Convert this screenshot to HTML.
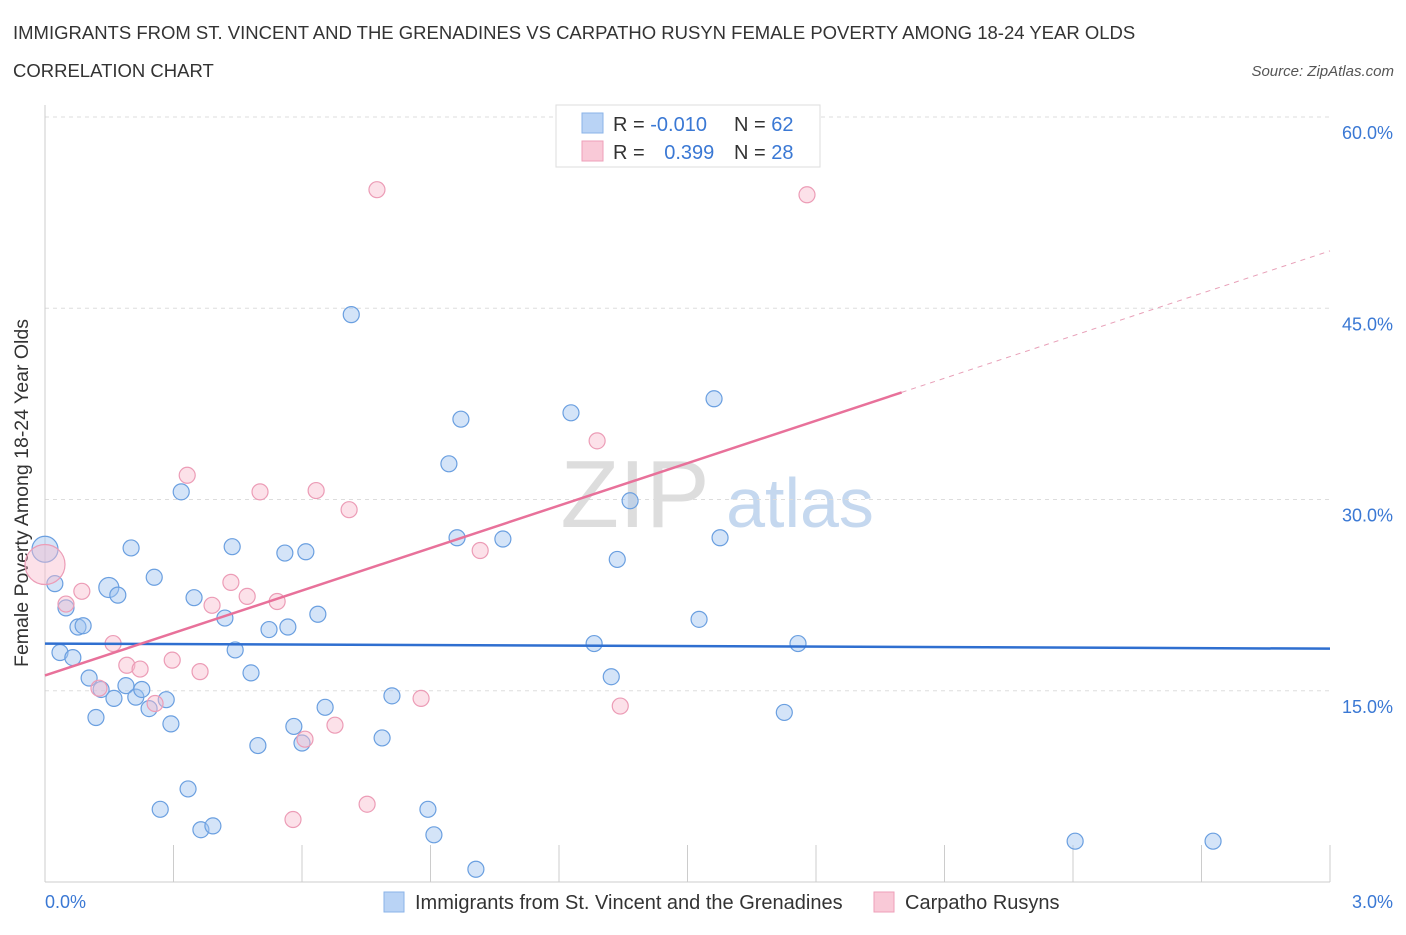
<!DOCTYPE html>
<html><head><meta charset="utf-8"><style>
body{margin:0;background:#fff;font-family:"Liberation Sans",sans-serif;}
svg text{font-family:"Liberation Sans",sans-serif;}
</style></head><body>
<svg id="c" width="1406" height="930" xmlns="http://www.w3.org/2000/svg">
<text x="13" y="39" font-size="18.5" fill="#333">IMMIGRANTS FROM ST. VINCENT AND THE GRENADINES VS CARPATHO RUSYN FEMALE POVERTY AMONG 18-24 YEAR OLDS</text>
<text x="13" y="77" font-size="18.5" fill="#333">CORRELATION CHART</text>
<text x="1394" y="76" font-size="15" fill="#555" font-style="italic" text-anchor="end">Source: ZipAtlas.com</text>
<text x="28" y="493" font-size="19.5" fill="#333" text-anchor="middle" transform="rotate(-90 28 493)">Female Poverty Among 18-24 Year Olds</text>
<text x="635" y="527" font-size="96" fill="#ddd" font-family="Liberation Serif" text-anchor="middle">ZIP</text>
<text x="800" y="527" font-size="70" fill="#c5d8ef" text-anchor="middle">atlas</text>
<g id="grid"></g><g id="pts"></g><g id="trend"></g>
<g>
<rect x="556" y="105" width="264" height="62" fill="#fff" stroke="#ddd"/>
<rect x="582" y="113" width="21" height="20" fill="#b9d3f5" stroke="#8ab3e8"/>
<rect x="582" y="141" width="21" height="20" fill="#f9c9d7" stroke="#ee9fb8"/>
<text x="613" y="131" font-size="20" fill="#333">R = <tspan fill="#3a78d4">-0.010</tspan></text>
<text x="734" y="131" font-size="20" fill="#333">N = <tspan fill="#3a78d4">62</tspan></text>
<text x="613" y="159" font-size="20" fill="#333">R = <tspan fill="#3a78d4" dx="14">0.399</tspan></text>
<text x="734" y="159" font-size="20" fill="#333">N = <tspan fill="#3a78d4">28</tspan></text>
</g>
<g>
<rect x="384" y="892" width="20" height="20" fill="#b9d3f5" stroke="#8ab3e8"/>
<text x="415" y="909" font-size="20" fill="#333">Immigrants from St. Vincent and the Grenadines</text>
<rect x="874" y="892" width="20" height="20" fill="#f9c9d7" stroke="#ee9fb8"/>
<text x="905" y="909" font-size="20" fill="#333">Carpatho Rusyns</text>
</g>
</svg>
<script>
const blueX=[0,0.023,0.049,0.035,0.065,0.077,0.089,0.103,0.119,0.131,0.149,0.161,0.170,0.189,0.201,0.212,0.226,0.243,0.255,0.269,0.283,0.294,0.318,0.334,0.348,0.364,0.392,0.420,0.437,0.444,0.481,0.497,0.523,0.560,0.567,0.581,0.600,0.609,0.637,0.654,0.715,0.787,0.810,0.894,0.908,0.943,0.962,0.971,1.006,1.069,1.228,1.282,1.322,1.336,1.366,1.527,1.562,1.576,1.726,1.758,2.405,2.727];
const blueY=[26.1,23.4,21.5,18.0,17.6,20.0,20.1,16.0,12.9,15.1,23.1,14.4,22.5,15.4,26.2,14.5,15.1,13.6,23.9,5.7,14.3,12.4,30.6,7.3,22.3,4.1,4.4,20.7,26.3,18.2,16.4,10.7,19.8,25.8,20.0,12.2,10.9,25.9,21.0,13.7,44.5,11.3,14.6,5.7,3.7,32.8,27.0,36.3,1.0,26.9,36.8,18.7,16.1,25.3,29.9,20.6,37.9,27.0,13.3,18.7,3.2,3.2];
const pinkX=[0,0.049,0.086,0.126,0.159,0.191,0.222,0.257,0.297,0.332,0.362,0.390,0.434,0.472,0.502,0.542,0.579,0.607,0.633,0.677,0.710,0.752,0.775,0.878,1.016,1.289,1.343,1.779];
const pinkY=[24.9,21.8,22.8,15.2,18.7,17.0,16.7,14.0,17.4,31.9,16.5,21.7,23.5,22.4,30.6,22.0,4.9,11.2,30.7,12.3,29.2,6.1,54.3,14.4,26.0,34.6,13.8,53.9];
const yTicks=[15,30,45,60];
const xTicks=[0,0.3,0.6,0.9,1.2,1.5,1.8,2.1,2.4,2.7,3.0];
const blueTrend=[18.7,18.3];
const pinkTrend=[16.2,49.5];
const X=v=>45+v/3*1285, Y=v=>882-v*12.75;
const NS='http://www.w3.org/2000/svg';
function mk(p,t,a){const e=document.createElementNS(NS,t);for(const k in a)e.setAttribute(k,a[k]);document.getElementById(p).appendChild(e);return e;}
yTicks.forEach(v=>{const l=mk('grid','line',{x1:45,x2:1330,y1:Y(v),y2:Y(v),stroke:'#ddd','stroke-dasharray':'4 4'});


const t=mk('grid','text',{x:1393,y:Y(v)+22,'font-size':18,fill:'#3a78d4','text-anchor':'end'});t.textContent=v.toFixed(1)+'%';

});
const ax=mk('grid','line',{x1:45,x2:1330,y1:882,y2:882,stroke:'#ccc'});


const ay=mk('grid','line',{x1:45,x2:45,y1:105,y2:882,stroke:'#ccc'});


xTicks.forEach(v=>{const l=mk('grid','line',{x1:X(v),x2:X(v),y1:845,y2:882,stroke:'#ccc'});

});
[[0,'0.0%',45,'start'],[3,'3.0%',1393,'end']].forEach(d=>{const t=mk('grid','text',{x:d[2],y:908,'font-size':18,fill:'#3a78d4','text-anchor':d[3]});t.textContent=d[1];

});
blueX.forEach((x,i)=>{const c=mk('pts','circle',{cx:X(x),cy:Y(blueY[i]),r:i==0?13:(i==10?10:8),fill:'rgba(160,196,240,0.45)',stroke:'#6a9fe0','stroke-width':1.2});

});
pinkX.forEach((x,i)=>{const c=mk('pts','circle',{cx:X(x),cy:Y(pinkY[i]),r:i==0?20:8,fill:'rgba(248,188,206,0.45)',stroke:'#ec9cb6','stroke-width':1.2});

});
const bt=mk('trend','line',{x1:X(0),x2:X(3),y1:Y(blueTrend[0]),y2:Y(blueTrend[1]),stroke:'#2f6fd0','stroke-width':2.5});


const pAt=x=>pinkTrend[0]+(pinkTrend[1]-pinkTrend[0])*x/3;
const pt=mk('trend','line',{x1:X(0),x2:X(2),y1:Y(pAt(0)),y2:Y(pAt(2)),stroke:'#e8719a','stroke-width':2.5});


const pd=mk('trend','line',{x1:X(2),x2:X(3),y1:Y(pAt(2)),y2:Y(pAt(3)),stroke:'#e8a0b8','stroke-width':1,'stroke-dasharray':'5 5'});


</script>
</body></html>
